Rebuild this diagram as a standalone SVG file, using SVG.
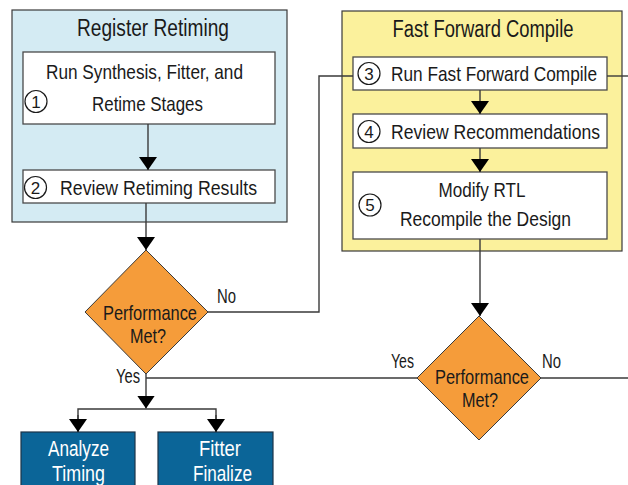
<svg xmlns="http://www.w3.org/2000/svg" width="628" height="485" viewBox="0 0 628 485">
<defs>
<style>
text{font-family:"Liberation Sans","DejaVu Sans",sans-serif;fill:#1a1a1a}
.title{font-size:23px}
.t{font-size:21px}
.lbl{font-size:20px}
.num{font-size:17px;text-anchor:middle}
.circ{fill:none;stroke:#1a1a1a;stroke-width:1.2}
.inner{fill:#ffffff;stroke:#4a4a4a;stroke-width:1.3}
.dia{fill:#f59c3a;stroke:#3a3a3a;stroke-width:1}
.blue{fill:#0b6598;stroke:#1d3448;stroke-width:1.2}
.wt{fill:#ffffff;font-size:22px;text-anchor:middle}
.c{text-anchor:middle}
.conn{fill:none;stroke:#3a3a3a;stroke-width:1.4}
</style>
<marker id="ah" markerUnits="userSpaceOnUse" markerWidth="14" markerHeight="18" refX="13" refY="9" orient="auto">
<path d="M0,0 L13,9 L0,18 z" fill="#000"/>
</marker>
</defs>

<g id="register-retiming">
<rect x="12" y="10" width="275" height="212" fill="#d4ebf3" stroke="#3a3a3a" stroke-width="1.2"/>
<text class="title c" x="153" y="36" textLength="152" lengthAdjust="spacingAndGlyphs">Register Retiming</text>
</g>
<g id="fast-forward-compile">
<rect x="342" y="11" width="280" height="240" fill="#fbf19c" stroke="#3a3a3a" stroke-width="1.2"/>
<text class="title c" x="483" y="37" textLength="181" lengthAdjust="spacingAndGlyphs">Fast Forward Compile</text>
</g>

<g id="step1">
<rect class="inner" x="23" y="52" width="252" height="72"/>
<text class="t c" x="144.5" y="79" textLength="197" lengthAdjust="spacingAndGlyphs">Run Synthesis, Fitter, and</text>
<text class="t c" x="147.5" y="111" textLength="111" lengthAdjust="spacingAndGlyphs">Retime Stages</text>
<circle class="circ" cx="36" cy="101.5" r="11"/>
<text class="num" x="36" y="107.5">1</text>
</g>
<g id="step2">
<rect class="inner" x="23" y="170" width="252" height="33"/>
<text class="t" x="60" y="195" textLength="197" lengthAdjust="spacingAndGlyphs">Review Retiming Results</text>
<circle class="circ" cx="35.5" cy="187.5" r="11"/>
<text class="num" x="35.5" y="193.5">2</text>
</g>
<g id="step3">
<rect class="inner" x="353" y="57" width="254" height="33"/>
<text class="t" x="391" y="81" textLength="206" lengthAdjust="spacingAndGlyphs">Run Fast Forward Compile</text>
<circle class="circ" cx="369" cy="73.5" r="11"/>
<text class="num" x="369" y="79.5">3</text>
</g>
<g id="step4">
<rect class="inner" x="353" y="114" width="254" height="34"/>
<text class="t" x="391" y="139" textLength="209" lengthAdjust="spacingAndGlyphs">Review Recommendations</text>
<circle class="circ" cx="369" cy="131.5" r="11"/>
<text class="num" x="369" y="137.5">4</text>
</g>
<g id="step5">
<rect class="inner" x="353" y="172" width="254" height="67"/>
<text class="t c" x="482" y="197" textLength="87" lengthAdjust="spacingAndGlyphs">Modify RTL</text>
<text class="t c" x="485.5" y="226" textLength="171" lengthAdjust="spacingAndGlyphs">Recompile the Design</text>
<circle class="circ" cx="370" cy="205" r="11"/>
<text class="num" x="370" y="211">5</text>
</g>

<g id="decision1">
<polygon class="dia" points="146,250 208,312 146,374 85,312"/>
<text class="t c" x="150" y="320" textLength="94" lengthAdjust="spacingAndGlyphs">Performance</text>
<text class="t c" x="148" y="343" textLength="36" lengthAdjust="spacingAndGlyphs">Met?</text>
</g>
<g id="decision2">
<polygon class="dia" points="479,316 541,378 479,440 417,378"/>
<text class="t c" x="482" y="384" textLength="94" lengthAdjust="spacingAndGlyphs">Performance</text>
<text class="t c" x="480" y="407" textLength="36" lengthAdjust="spacingAndGlyphs">Met?</text>
</g>

<g id="analyze-timing">
<rect class="blue" x="21" y="432" width="114" height="60"/>
<text class="wt" x="78.5" y="456" textLength="61" lengthAdjust="spacingAndGlyphs">Analyze</text>
<text class="wt" x="78.5" y="481" textLength="53" lengthAdjust="spacingAndGlyphs">Timing</text>
</g>
<g id="fitter-finalize">
<rect class="blue" x="158" y="432" width="115" height="60"/>
<text class="wt" x="220" y="456" textLength="42" lengthAdjust="spacingAndGlyphs">Fitter</text>
<text class="wt" x="222.5" y="481" textLength="59" lengthAdjust="spacingAndGlyphs">Finalize</text>
</g>

<g id="connectors">
<path class="conn" d="M148,124 V170" marker-end="url(#ah)"/>
<path class="conn" d="M146,203 V250" marker-end="url(#ah)"/>
<path class="conn" d="M480,90 V114" marker-end="url(#ah)"/>
<path class="conn" d="M480,148 V172" marker-end="url(#ah)"/>
<path class="conn" d="M480,239 V316" marker-end="url(#ah)"/>
<path class="conn" d="M208,312 H319 V76 H353"/>
<path class="conn" d="M607,76 H628"/>
<path class="conn" d="M541,378 H628"/>
<path class="conn" d="M417,378 H146"/>
<path class="conn" d="M146,374 V408.5" marker-end="url(#ah)"/>
<path class="conn" d="M78,432 V409 H216 V432"/>
<path class="conn" d="M78,415 V432" marker-end="url(#ah)"/>
<path class="conn" d="M216,415 V432" marker-end="url(#ah)"/>
<text class="lbl" x="217" y="303" textLength="19" lengthAdjust="spacingAndGlyphs">No</text>
<text class="lbl" x="116" y="383" textLength="24" lengthAdjust="spacingAndGlyphs">Yes</text>
<text class="lbl" x="391" y="368" textLength="23" lengthAdjust="spacingAndGlyphs">Yes</text>
<text class="lbl" x="542" y="368" textLength="19" lengthAdjust="spacingAndGlyphs">No</text>
</g>
</svg>
